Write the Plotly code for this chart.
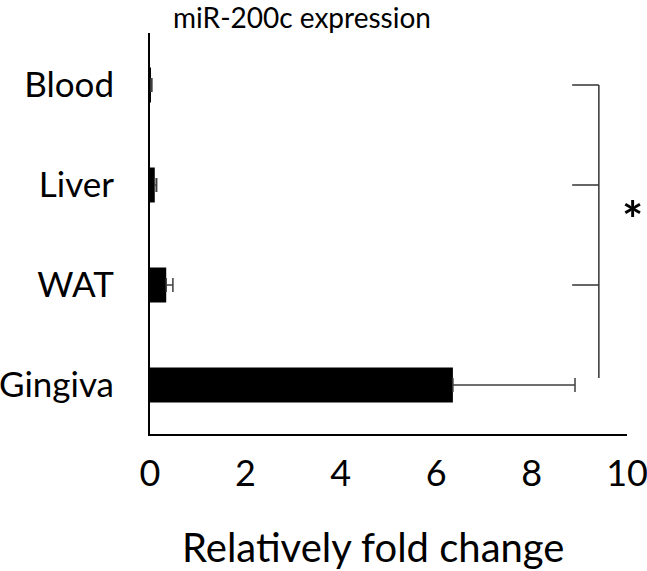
import plotly.graph_objects as go

categories = ["Blood", "Liver", "WAT", "Gingiva"]
values = [0.02, 0.10, 0.34, 6.35]
errors = [0.02, 0.04, 0.14, 2.56]
x_ticks = [0, 2, 4, 6, 8, 10]
title_text = "miR-200c expression"
x_title = "Relatively fold change"

FONT = "Lato"
L, R, T, B = 150, 627, 33, 434  # plot area pixel edges


def px_x(p):
    return (p - L) / (R - L)


def px_y(p):
    return (B - p) / (B - T)


fig = go.Figure()
fig.add_trace(go.Bar(
    y=categories, x=values, orientation="h",
    marker=dict(color="black", line=dict(width=0)),
    width=0.35,
    error_x=dict(type="data", array=errors, symmetric=False, arrayminus=[0]*4,
                 visible=True, color="#404040", thickness=1.5, width=7),
))

# significance bracket (Blood, Liver, WAT vs Gingiva)
bx, tx = 9.41, 8.85
fig.add_shape(type="line", x0=bx, x1=bx, y0=3, y1=0.07, xref="x", yref="y",
              line=dict(color="#333333", width=1.5))
for yy in [3, 2, 1]:
    fig.add_shape(type="line", x0=tx, x1=bx, y0=yy, y1=yy, xref="x", yref="y",
                  line=dict(color="#333333", width=1.5))
fig.add_annotation(x=px_x(632), y=px_y(219), xref="paper", yref="paper", text="<b>*</b>",
                   showarrow=False, font=dict(family=FONT, size=50, color="black"),
                   xanchor="center", yanchor="middle")

fig.add_annotation(x=px_x(373), y=px_y(547), xref="paper", yref="paper",
                   text=x_title, showarrow=False,
                   font=dict(family=FONT, size=40, color="black"),
                   xanchor="center", yanchor="middle")

fig.update_layout(
    width=647, height=571,
    paper_bgcolor="white", plot_bgcolor="white",
    margin=dict(l=L, r=647 - R, t=T, b=571 - B),
    showlegend=False,
    title=dict(text=title_text, x=302/647, xanchor="center", y=1-18/571, yanchor="middle",
               font=dict(family=FONT, size=28, color="black")),
    font=dict(family=FONT, color="black"),
)
fig.update_xaxes(range=[0, 10], tickvals=x_ticks, showgrid=False, zeroline=False,
                 showline=True, linecolor="black", linewidth=1.5,
                 ticks="", ticklabelstandoff=7, automargin=False,
                 ticklabeloverflow="allow",
                 tickfont=dict(family=FONT, size=36, color="black"))
fig.update_yaxes(categoryorder="array", categoryarray=categories[::-1],
                 range=[-0.49, 3.52], showgrid=False, zeroline=False,
                 showline=True, linecolor="black", linewidth=2,
                 ticks="", ticklabelstandoff=27, automargin=False,
                 ticklabeloverflow="allow",
                 tickfont=dict(family=FONT, size=35, color="black"))

fig.write_html("out.html", config={"displayModeBar": False},
               post_script="document.body.style.margin='0';")
